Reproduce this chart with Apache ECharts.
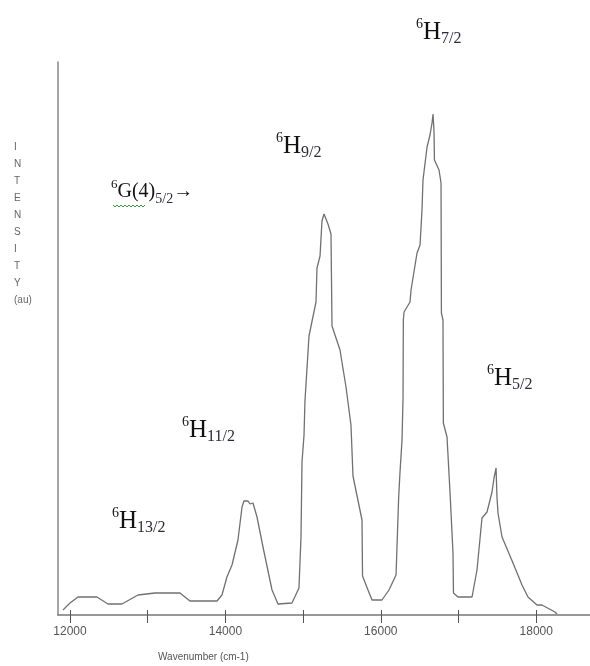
<!DOCTYPE html>
<html><head><meta charset="utf-8">
<script src="https://cdn.jsdelivr.net/npm/echarts@6/dist/echarts.min.js"></script>
<style>html,body{margin:0;padding:0;background:#fff}#c{width:590px;height:666px}</style>
</head><body><div id="c"></div>
<script>
// Emission spectrum (wavenumber in cm-1, intensity in arbitrary units)
const wavenumber = [11910,12000,12103,12347,12489,12669,12875,13094,13416,13544,13892,13956,14020,14085,14162,14214,14239,14291,14317,14355,14407,14484,14600,14677,14857,14947,14973,14986,15012,15024,15076,15166,15179,15218,15243,15269,15320,15359,15372,15475,15552,15616,15642,15758,15765,15835,15887,16015,16105,16196,16230,16245,16273,16286,16290,16299,16376,16389,16466,16505,16530,16543,16595,16633,16659,16672,16685,16690,16749,16775,16780,16800,16805,16852,16891,16929,16935,16994,17174,17238,17302,17367,17431,17457,17483,17495,17508,17560,17701,17817,17894,18010,18074,18241,18267];
const intensity  = [5,12,18,18,11,11,20,22,22,14,14,20,38,50,75,108,114,114,111,112,98,68,25,11,12,27,78,153,180,214,279,313,347,359,394,401,391,381,289,265,228,190,139,95,39,25,15,15,25,40,118,140,175,217,295,303,313,325,362,370,405,435,468,480,492,501,483,455,445,432,302,295,192,178,122,62,22,18,18,45,97,103,123,137,147,118,102,78,52,30,18,10,10,3,1];
const tickValues  = [12000,13000,14000,15000,16000,17000,18000];
const labelValues = [12000,14000,16000,18000];
const xAxisTitle = 'Wavenumber (cm-1)';
const yAxisLetters = ['I','N','T','E','N','S','I','T','Y','(au)'];
// transition labels: [superscript, main, subscript]
const transitions = [
  ['6','H','7/2'],
  ['6','H','9/2'],
  ['6','H','11/2'],
  ['6','H','13/2'],
  ['6','H','5/2']
];
const transitionPos = [[416,17],[276,131],[182,415],[112,506],[487,363]];

const chart = echarts.init(document.getElementById('c'), null, {renderer:'canvas'});
const serif = '"Liberation Serif","Times New Roman",serif';
const sans = '"Liberation Sans",Arial,sans-serif';
const rich = {
  sup:{fontFamily:serif,fontSize:14,fill:'#111',verticalAlign:'top',lineHeight:22},
  m:{fontFamily:serif,fontSize:25,fill:'#111',verticalAlign:'middle',lineHeight:30},
  sub:{fontFamily:serif,fontSize:16,fill:'#2a2a3a',verticalAlign:'bottom',lineHeight:15}
};
const graphics = transitions.map((t,i)=>({
  type:'text', left:transitionPos[i][0], top:transitionPos[i][1],
  style:{text:'{sup|'+t[0]+'}{m|'+t[1]+'}{sub|'+t[2]+'}', rich:rich}
}));
const gRich = {
  sup:{fontFamily:serif,fontSize:13,fill:'#111',verticalAlign:'top',lineHeight:17},
  m:{fontFamily:serif,fontSize:20,fill:'#111',verticalAlign:'middle',lineHeight:28},
  sub:{fontFamily:serif,fontSize:14,fill:'#2a2a3a',verticalAlign:'bottom',lineHeight:9},
  ar:{fontFamily:serif,fontSize:20,fill:'#111',verticalAlign:'middle',lineHeight:28}
};
graphics.push({type:'text', left:111, top:178,
  style:{text:'{sup|6}{m|G(4)}{sub|5/2}{ar|\u2192}', rich:gRich}});
// spell-check squiggle under G(4)
const sq = [];
for (let k=0;k<=16;k++){ sq.push([113+k*2, 205 + (k%2?2:0)]); }
graphics.push({type:'polyline', shape:{points:sq}, style:{stroke:'#3a9a3a',lineWidth:1,fill:null}});
graphics.push({type:'text', left:158, top:652,
  style:{text:xAxisTitle, fontFamily:sans, fontSize:10, fill:'#555'}});
graphics.push({type:'text', left:14, top:139,
  style:{text:yAxisLetters.join('\n'), align:'center', fontFamily:sans, fontSize:10, lineHeight:17, fill:'#666'}});

const baseX = {type:'value', min:11846, max:18692, splitLine:{show:false}};
chart.setOption({
  animation:false,
  backgroundColor:'#fff',
  grid:{left:58, right:0, top:62, bottom:51, containLabel:false},
  xAxis:[
    Object.assign({}, baseX, {
      axisLine:{show:true, lineStyle:{color:'#777', width:1.5}},
      axisTick:{show:true, customValues:tickValues, length:8, lineStyle:{color:'#555', width:1}},
      axisLabel:{show:true, customValues:labelValues, formatter:v=>String(v), color:'#555', fontSize:12,
        fontFamily:'"Liberation Sans Narrow","Liberation Sans",Arial,sans-serif', margin:11}
    }),
    Object.assign({}, baseX, {
      position:'bottom',
      axisLine:{show:false},
      axisTick:{show:true, inside:true, customValues:tickValues, length:5, lineStyle:{color:'#555', width:1}},
      axisLabel:{show:false}
    })
  ],
  yAxis:{
    type:'value', min:0, max:553,
    axisLine:{show:true, lineStyle:{color:'#888', width:1.5}},
    axisTick:{show:false}, axisLabel:{show:false}, splitLine:{show:false}
  },
  series:[{
    type:'line', xAxisIndex:0, data:wavenumber.map((w,i)=>[w,intensity[i]]),
    showSymbol:false, symbol:'none', smooth:false,
    lineStyle:{color:'#707070', width:1.3}
  }],
  graphic:graphics
});
</script></body></html>
